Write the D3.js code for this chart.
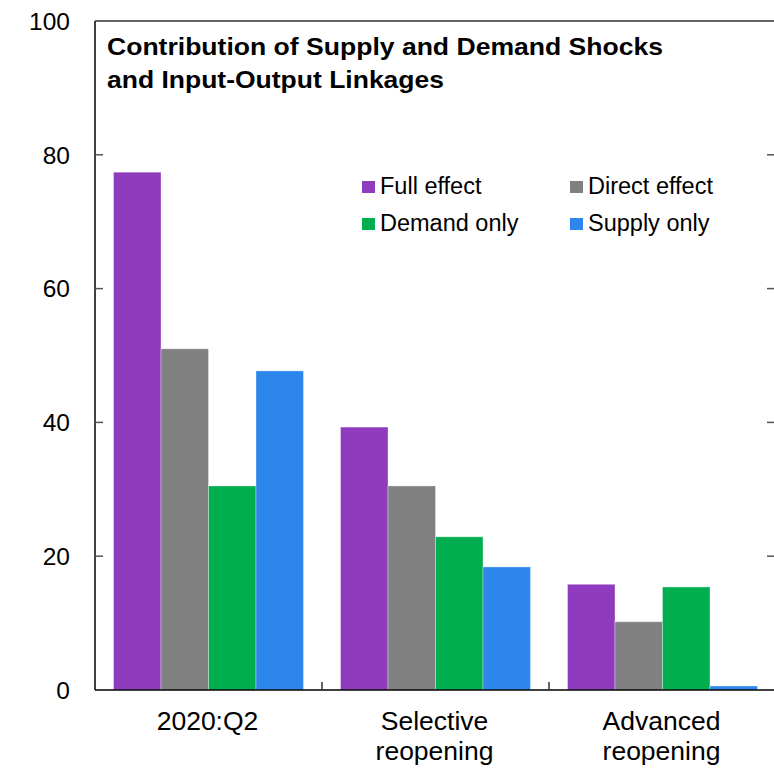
<!DOCTYPE html>
<html>
<head>
<meta charset="utf-8">
<script src="https://cdn.jsdelivr.net/npm/d3@7"></script>
<style>
  body { margin: 0; background: #fff; }
  svg text { font-family: Arial, "Liberation Sans", sans-serif; fill: #000; }
</style>
</head>
<body>
<div id="stage"></div>
<script>
// chart data
var categories = ["2020:Q2", "Selective\nreopening", "Advanced\nreopening"];
var series_names = ["Full effect", "Direct effect", "Demand only", "Supply only"];
var series_colors = ["#8E3BBD", "#808080", "#00AD4F", "#2D86EC"];
var full_effect = [77.4, 39.3, 15.8];
var direct_effect = [51.0, 30.5, 10.2];
var demand_only = [30.5, 22.9, 15.4];
var supply_only = [47.7, 18.4, 0.6];
var y_ticks = [0, 20, 40, 60, 80, 100];

var stage_width = 774;
var stage_height = 772;

build_scene();

function build_scene() {
  var margin = { top: 21, left: 95, right: -2, bottom: 82 };
  var chart_width = stage_width - margin.left - margin.right;
  var chart_height = stage_height - margin.top - margin.bottom;

  var series_values = [full_effect, direct_effect, demand_only, supply_only];

  var svg = d3.select("#stage")
    .append("svg")
    .attr("width", stage_width)
    .attr("height", stage_height);

  var g = svg.append("g")
    .attr("transform", "translate(" + margin.left + "," + margin.top + ")");

  // scales
  var x0 = d3.scaleBand()
    .domain(categories)
    .range([0, chart_width])
    .paddingInner(0)
    .paddingOuter(0);
  var x1 = d3.scaleBand()
    .domain(series_names)
    .range([18.5, x0.bandwidth() - 18.5]);
  var y = d3.scaleLinear().domain([0, 100]).range([chart_height, 0]);

  // bars
  var groups = g.selectAll("g.grp")
    .data(categories)
    .enter()
    .append("g")
    .attr("class", "grp")
    .attr("transform", function(d) { return "translate(" + x0(d) + ",0)"; });

  groups.selectAll("rect")
    .data(function(d, i) {
      return series_names.map(function(s, j) {
        return { name: s, value: series_values[j][i], color: series_colors[j] };
      });
    })
    .enter()
    .append("rect")
    .attr("x", function(d) { return x1(d.name); })
    .attr("width", x1.bandwidth())
    .attr("y", function(d) { return y(d.value); })
    .attr("height", function(d) { return chart_height - y(d.value); })
    .attr("fill", function(d) { return d.color; })
    .attr("stroke", "rgba(255,255,255,0.35)")
    .attr("stroke-width", 1);

  // frame: left, top, bottom
  g.append("line").attr("x1", 0).attr("x2", 0).attr("y1", 0).attr("y2", chart_height)
    .attr("stroke", "#000").attr("stroke-width", 1.5);
  g.append("line").attr("x1", 0).attr("x2", chart_width).attr("y1", 0).attr("y2", 0)
    .attr("stroke", "#333").attr("stroke-width", 1.5);
  g.append("line").attr("x1", 0).attr("x2", chart_width).attr("y1", chart_height).attr("y2", chart_height)
    .attr("stroke", "#000").attr("stroke-width", 1.5);

  // y ticks (inside, left and right)
  var inner_ticks = y_ticks.filter(function(t) { return t > 0 && t < 100; });
  g.selectAll("line.ytl")
    .data(inner_ticks)
    .enter()
    .append("line")
    .attr("class", "ytl")
    .attr("x1", 0).attr("x2", 8)
    .attr("y1", function(d) { return y(d); })
    .attr("y2", function(d) { return y(d); })
    .attr("stroke", "#555").attr("stroke-width", 1.5);
  g.selectAll("line.ytr")
    .data(inner_ticks)
    .enter()
    .append("line")
    .attr("class", "ytr")
    .attr("x1", 672).attr("x2", 681)
    .attr("y1", function(d) { return y(d); })
    .attr("y2", function(d) { return y(d); })
    .attr("stroke", "#555").attr("stroke-width", 1.5);

  // y labels
  g.selectAll("text.yl")
    .data(y_ticks)
    .enter()
    .append("text")
    .attr("class", "yl")
    .attr("x", -25)
    .attr("y", function(d) { return y(d); })
    .attr("dy", "0.36em")
    .attr("text-anchor", "end")
    .style("font-size", "24.5px")
    .text(function(d) { return d; });

  // x ticks between groups
  g.selectAll("line.xt")
    .data(categories.slice(1))
    .enter()
    .append("line")
    .attr("class", "xt")
    .attr("x1", function(d) { return x0(d); })
    .attr("x2", function(d) { return x0(d); })
    .attr("y1", chart_height).attr("y2", chart_height - 8)
    .attr("stroke", "#333").attr("stroke-width", 1.5);

  // x labels
  var xl = g.selectAll("text.xl")
    .data(categories)
    .enter()
    .append("text")
    .attr("class", "xl")
    .attr("text-anchor", "middle")
    .attr("transform", function(d) {
      return "translate(" + (x0(d) + x0.bandwidth() / 2 - 1) + "," + (chart_height + 40) + ")";
    })
    .style("font-size", "26.5px");
  xl.selectAll("tspan")
    .data(function(d) { return d.split("\n"); })
    .enter()
    .append("tspan")
    .attr("x", 0)
    .attr("dy", function(d, i) { return i === 0 ? 0 : 30; })
    .text(function(d) { return d; });

  // title (two lines)
  svg.append("text")
    .attr("x", 107).attr("y", 54.5)
    .attr("textLength", 556).attr("lengthAdjust", "spacingAndGlyphs")
    .style("font-size", "24px").style("font-weight", "bold")
    .text("Contribution of Supply and Demand Shocks");
  svg.append("text")
    .attr("x", 107).attr("y", 87.5)
    .attr("textLength", 337).attr("lengthAdjust", "spacingAndGlyphs")
    .style("font-size", "24px").style("font-weight", "bold")
    .text("and Input-Output Linkages");

  // legend
  var legend_pos = [[362, 193.5], [570, 193.5], [362, 230.5], [570, 230.5]];
  var leg = svg.selectAll("g.leg")
    .data(series_names)
    .enter()
    .append("g")
    .attr("class", "leg")
    .attr("transform", function(d, i) {
      return "translate(" + legend_pos[i][0] + "," + legend_pos[i][1] + ")";
    });
  leg.append("rect")
    .attr("x", 0).attr("y", -12.5)
    .attr("width", 13).attr("height", 12)
    .attr("fill", function(d, i) { return series_colors[i]; });
  leg.append("text")
    .attr("x", 18).attr("y", 0)
    .style("font-size", "23.5px")
    .text(function(d) { return d; });
}
</script>
</body>
</html>
